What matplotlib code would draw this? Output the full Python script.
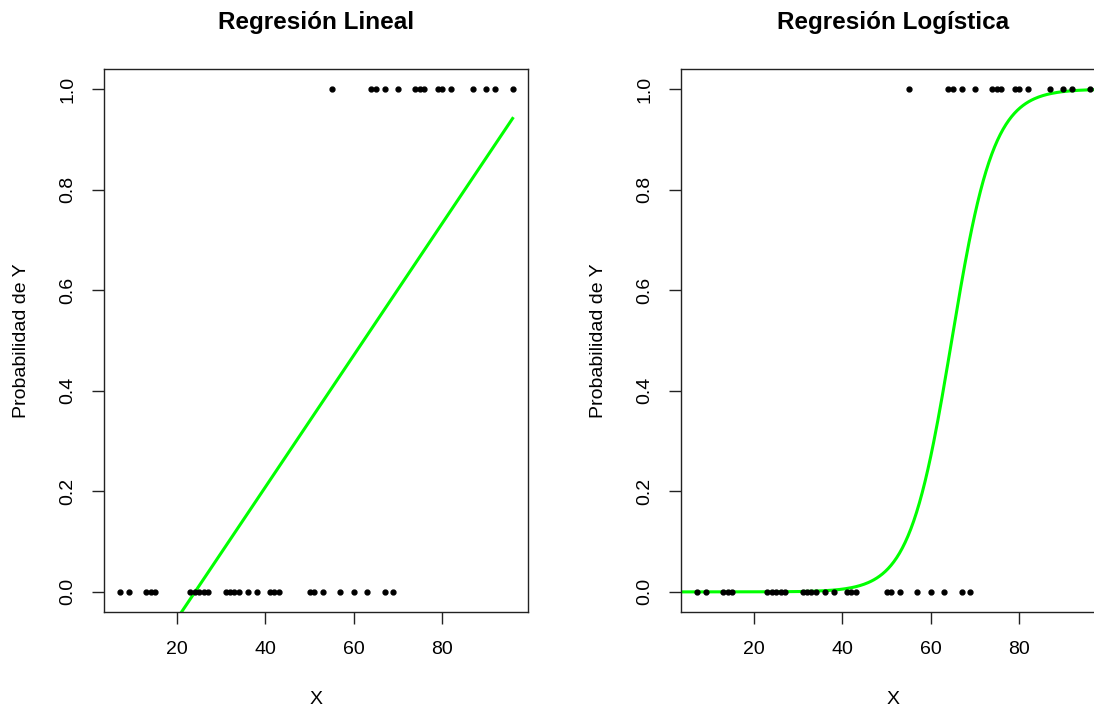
import numpy as np
import matplotlib
matplotlib.use("Agg")
import matplotlib.pyplot as plt

plt.rcParams['font.family'] = ['Liberation Sans', 'DejaVu Sans']

# observed points (X values) with Y = 0 and Y = 1
x_ceros = [7, 9, 13, 14, 15, 23, 24, 25, 26, 27, 31, 32, 33, 34, 36, 38,
           41, 42, 43, 50, 51, 53, 57, 60, 63, 67, 69]
x_unos = [55, 64, 65, 67, 70, 74, 75, 76, 79, 80, 82, 87, 90, 92, 96]

# fitted models
lin_intercept = -0.315
lin_slope = 0.01309
log_b0 = -13.6
log_b1 = 0.21

titulos = ["Regresión Lineal", "Regresión Logística"]
yticks = [0.0, 0.2, 0.4, 0.6, 0.8, 1.0]
xticks = [20, 40, 60, 80]

x_all = np.array(sorted(x_ceros + x_unos), dtype=float)
y_ceros = np.zeros(len(x_ceros))
y_unos = np.ones(len(x_unos))

fig = plt.figure(figsize=(10.94, 7.11), dpi=100)
ax1 = fig.add_axes([104 / 1094, 99 / 711, 424.3 / 1094, 543 / 711])
ax2 = fig.add_axes([681 / 1094, 99 / 711, 424.3 / 1094, 543 / 711])

rng = x_all.max() - x_all.min()
xlim = (x_all.min() - 0.04 * rng, x_all.max() + 0.04 * rng)

for ax, titulo in zip([ax1, ax2], titulos):
    ax.plot(x_ceros, y_ceros, 'o', color='black', markersize=3.5, zorder=3)
    ax.plot(x_unos, y_unos, 'o', color='black', markersize=3.5, zorder=3)
    ax.set_xlim(xlim)
    ax.set_ylim(-0.04, 1.04)
    ax.set_xticks(xticks)
    ax.set_yticks(yticks)
    ax.set_yticklabels([f"{v:.1f}" for v in yticks], rotation=90, va='center')
    ax.tick_params(axis='both', direction='out', length=8.5, width=1,
                   labelsize=14, color='#222222')
    ax.tick_params(axis='x', pad=12.5)
    ax.tick_params(axis='y', pad=11.5)
    for s in ax.spines.values():
        s.set_color('#222222')
        s.set_linewidth(1)
    ax.set_xlabel("X", fontsize=14, labelpad=24)
    ax.set_ylabel("Probabilidad de Y", fontsize=14, labelpad=21)
    ax.set_title(titulo, fontsize=17.5, fontweight='bold', pad=29)

# recta de regresión lineal
ax1.plot(x_all, lin_intercept + lin_slope * x_all, color='#00ff00', linewidth=2.2, zorder=2)

# curva logística
xs = np.linspace(xlim[0], xlim[1], 300)
ax2.plot(xs, 1 / (1 + np.exp(-(log_b0 + log_b1 * xs))), color='#00ff00', linewidth=2.2, zorder=2)

fig.savefig("out.png", dpi=100)
